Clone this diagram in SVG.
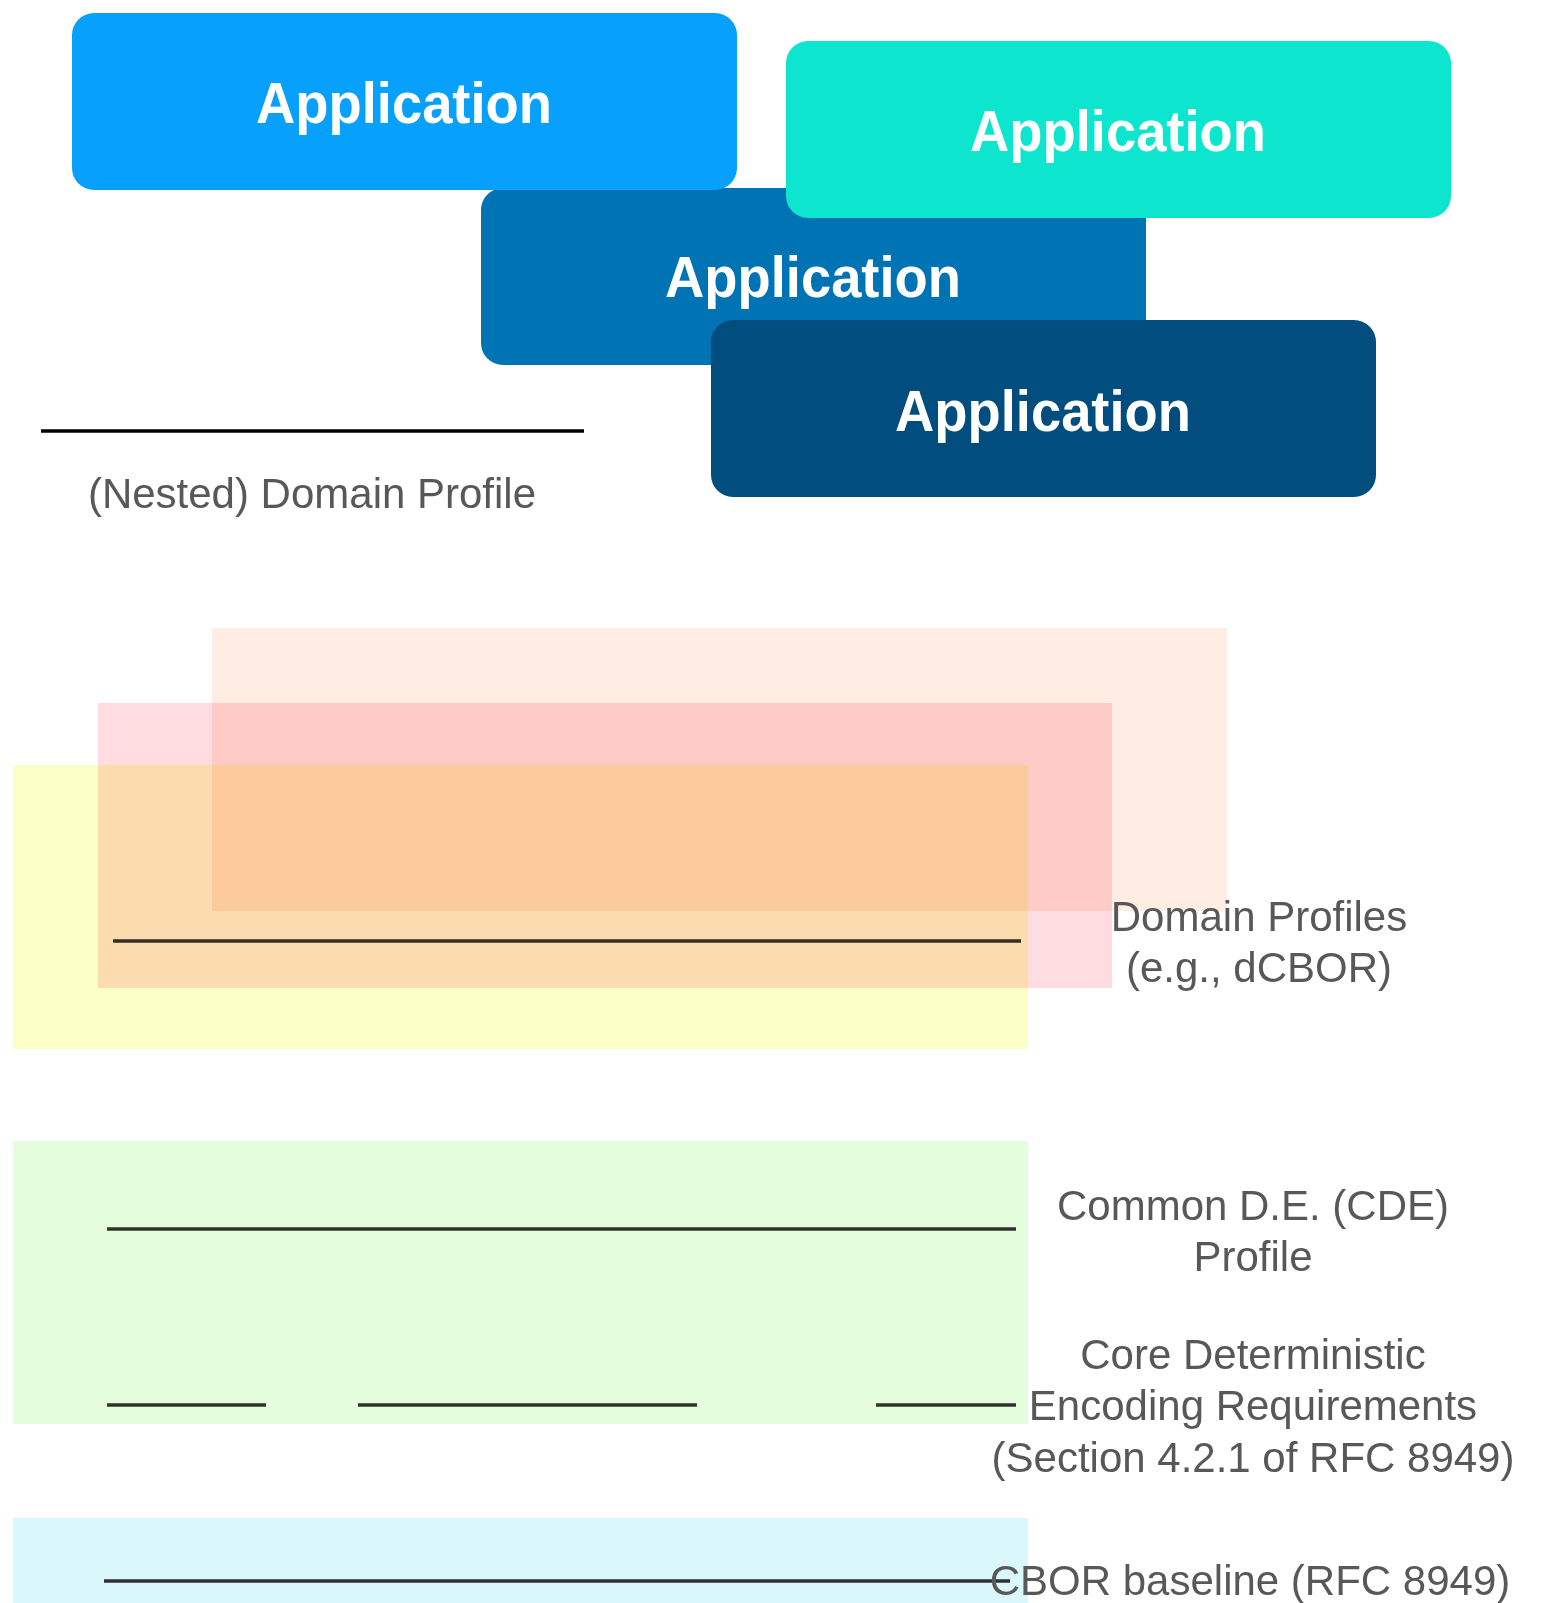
<svg xmlns="http://www.w3.org/2000/svg" width="1547" height="1603" viewBox="0 0 1547 1603">
  <style>
    .app { font-family: "Liberation Sans", Arial, Helvetica, sans-serif; font-weight: bold; font-size: 58px; fill: #ffffff; text-anchor: middle; }
    .lbl { font-family: "Liberation Sans", Arial, Helvetica, sans-serif; font-size: 42px; fill: #585858; text-anchor: middle; }
    .layer { mix-blend-mode: multiply; }
    .rule { stroke: #000000; stroke-opacity: 0.8; stroke-width: 3.5; fill: none; }
  </style>
  <rect width="1547" height="1603" fill="#ffffff"/>

  <!-- Application boxes -->
  <g id="app2">
    <rect x="481" y="188" width="665" height="177" rx="22" fill="#0073B5"/>
    <text class="app" x="813" y="297" textLength="296" lengthAdjust="spacingAndGlyphs">Application</text>
  </g>
  <g id="app1">
    <rect x="72" y="13" width="665" height="177" rx="22" fill="#07A0FC"/>
    <text class="app" x="404" y="123" textLength="296" lengthAdjust="spacingAndGlyphs">Application</text>
  </g>
  <g id="app3">
    <rect x="786" y="41" width="665" height="177" rx="22" fill="#0EE5CF"/>
    <text class="app" x="1118" y="151" textLength="296" lengthAdjust="spacingAndGlyphs">Application</text>
  </g>
  <g id="app4">
    <rect x="711" y="320" width="665" height="177" rx="22" fill="#004D7E"/>
    <text class="app" x="1043" y="431" textLength="296" lengthAdjust="spacingAndGlyphs">Application</text>
  </g>

  <!-- Nested domain profile legend -->
  <g id="nested-profile">
    <line x1="41" y1="431" x2="584" y2="431" stroke="#000" stroke-width="3.5"/>
    <text class="lbl" x="312" y="508">(Nested) Domain Profile</text>
  </g>

  <!-- Domain profile layers -->
  <g id="domain-layers" style="isolation:isolate">
    <rect class="layer" x="212" y="628" width="1015" height="283" fill="#FFECE2"/>
    <rect class="layer" x="98" y="703" width="1014" height="285" fill="#FFDCE0"/>
    <rect class="layer" x="13" y="765" width="1015" height="284" fill="#FCFFC8"/>
  </g>
  <g id="cde-layer">
    <rect x="13" y="1141" width="1015" height="283" fill="#E4FDDC"/>
  </g>
  <g id="cbor-layer">
    <rect x="13" y="1518" width="1015" height="90" fill="#DAF8FC"/>
  </g>

  <!-- Level rules -->
  <g id="connectors">
    <line class="rule" x1="113" y1="941" x2="1021" y2="941"/>
    <line class="rule" x1="107" y1="1229" x2="1016" y2="1229"/>
    <path class="rule" d="M107 1405 H266 M358 1405 H697 M876 1405 H1016"/>
    <line class="rule" x1="104" y1="1581" x2="1010" y2="1581"/>
  </g>

  <!-- Labels -->
  <g id="label-domain">
    <text class="lbl" x="1259" y="931">Domain Profiles</text>
    <text class="lbl" x="1259" y="982">(e.g., dCBOR)</text>
  </g>
  <g id="label-cde">
    <text class="lbl" x="1253" y="1220">Common D.E. (CDE)</text>
    <text class="lbl" x="1253" y="1271">Profile</text>
  </g>
  <g id="label-core">
    <text class="lbl" x="1253" y="1369">Core Deterministic</text>
    <text class="lbl" x="1253" y="1420">Encoding Requirements</text>
    <text class="lbl" x="1253" y="1472">(Section 4.2.1 of RFC 8949)</text>
  </g>
  <g id="label-cbor">
    <text class="lbl" x="1250" y="1595">CBOR baseline (RFC 8949)</text>
  </g>
</svg>
